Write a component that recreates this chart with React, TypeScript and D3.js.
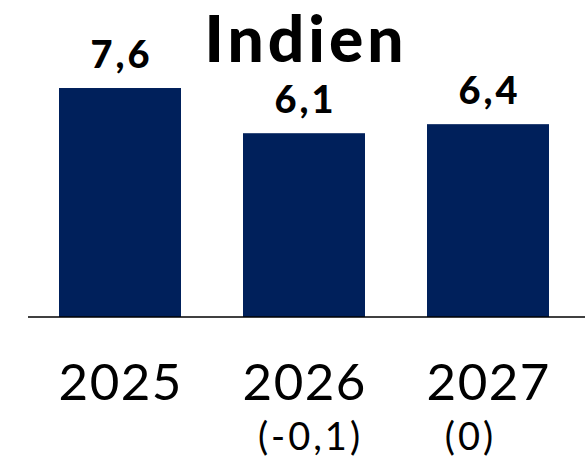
import React from "react";
import * as d3 from "d3";

const categories = ["2025", "2026", "2027"];
const values = [7.6, 6.1, 6.4];
const valueLabels = ["7,6", "6,1", "6,4"];
const subLabels = ["", "(-0,1)", "(0)"];
const title = "Indien";

const W = 585;
const H = 462;
const baseY = 317;
const FONT = "Lato, 'DejaVu Sans', sans-serif";
const subShift = [0, 5, -19];

export default function App() {
  const x = d3
    .scaleBand<string>()
    .domain(categories)
    .range([28, 580])
    .paddingInner(0.337)
    .paddingOuter(0.1685);
  const y = d3.scaleLinear().domain([0, 8]).range([baseY, baseY - 8 * 30.13]);

  return (
    <svg
      width={W}
      height={H}
      style={{ position: "absolute", left: 0, top: 0, background: "#fff" }}
    >
      <text
        x={304 + 2}
        y={62}
        textAnchor="middle"
        fontFamily={FONT}
        fontWeight={900}
        fontSize={64}
        letterSpacing={4}
        fill="#000"
      >
        {title}
      </text>
      {categories.map((c, i) => {
        const bx = x(c)!;
        const bw = x.bandwidth();
        const top = y(values[i]);
        const cx = bx + bw / 2;
        return (
          <g key={c}>
            <rect x={bx} y={top} width={bw} height={baseY - top} fill="#00205b" />
            <text
              x={cx + 1.5}
              y={top - 20}
              textAnchor="middle"
              fontFamily={FONT}
              fontWeight={900}
              fontSize={38}
              letterSpacing={3}
              fill="#000"
            >
              {valueLabels[i]}
            </text>
            <text
              x={cx + 0.75}
              y={400}
              textAnchor="middle"
              fontFamily={FONT}
              fontWeight={400}
              fontSize={51}
              letterSpacing={1.5}
              fill="#000"
            >
              {c}
            </text>
            {subLabels[i] && (
              <text
                x={cx + subShift[i] + 1.5}
                y={450}
                textAnchor="middle"
                fontFamily={FONT}
                fontWeight={400}
                fontSize={38}
                letterSpacing={3}
                fill="#000"
              >
                {subLabels[i]}
              </text>
            )}
          </g>
        );
      })}
      <line x1={28} x2={585} y1={baseY} y2={baseY} stroke="#000" strokeWidth={1.5} />
    </svg>
  );
}
